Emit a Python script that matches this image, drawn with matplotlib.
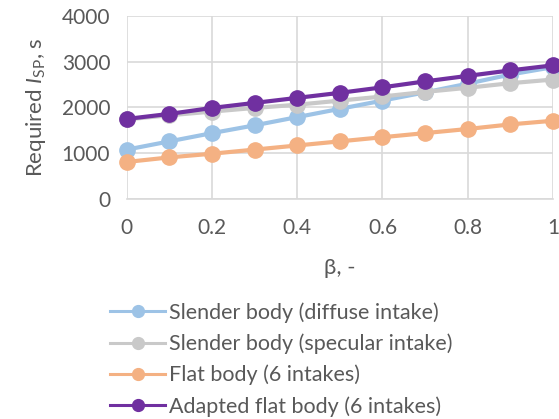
import matplotlib
matplotlib.use("Agg")
import matplotlib.pyplot as plt
from matplotlib.lines import Line2D

beta = [0, 0.1, 0.2, 0.3, 0.4, 0.5, 0.6, 0.7, 0.8, 0.9, 1.0]
slender_diffuse = [1080, 1260, 1440, 1610, 1790, 1970, 2150, 2330, 2520, 2720, 2880]
slender_specular = [1740, 1830, 1910, 1990, 2060, 2150, 2240, 2340, 2430, 2530, 2610]
flat_body = [810, 910, 990, 1080, 1170, 1260, 1350, 1440, 1530, 1630, 1710]
adapted_flat = [1750, 1860, 1990, 2100, 2210, 2320, 2440, 2570, 2690, 2810, 2920]

series_labels = ["Slender body (diffuse intake)", "Slender body (specular intake)",
                 "Flat body (6 intakes)", "Adapted flat body (6 intakes)"]
colors = ["#9DC3E6", "#C9C9C9", "#F4B183", "#7030A0"]
xticks = [0, 0.2, 0.4, 0.6, 0.8, 1]
xticklabels = ["0", "0.2", "0.4", "0.6", "0.8", "1"]
yticks = [0, 1000, 2000, 3000, 4000]

plt.rcParams['font.family'] = ['Lato', 'DejaVu Sans']
plt.rcParams['mathtext.fontset'] = 'custom'
plt.rcParams['mathtext.rm'] = 'Lato'
plt.rcParams['mathtext.it'] = 'Lato:italic'
txt = "#595959"

fig = plt.figure(figsize=(5.59, 4.19), dpi=100)
ax = fig.add_axes([0.227, 0.525, 0.762, 0.437])

data = [slender_diffuse, slender_specular, flat_body, adapted_flat]
for vals, c, lab in zip(data, colors, series_labels):
    ax.plot(beta, vals, color=c, lw=3, marker='o', ms=11, label=lab, zorder=3,
            clip_on=False)

ax.set_xlim(0, 1)
ax.set_ylim(0, 4000)
ax.set_xticks(xticks)
ax.set_xticklabels(xticklabels)
ax.set_yticks(yticks)
ax.grid(True, color="#D9D9D9", lw=1.2)
ax.set_axisbelow(True)
for s in ['top', 'right', 'left']:
    ax.spines[s].set_visible(False)
ax.spines['bottom'].set_color("#D9D9D9")
ax.spines['bottom'].set_linewidth(1.2)
ax.tick_params(length=0, labelsize=15, colors=txt)
ax.tick_params(axis='x', pad=14)
ax.tick_params(axis='y', pad=12)
ax.set_xlabel("β, -", fontsize=16, color=txt, labelpad=14)
ax.set_ylabel(r"Required $\mathit{I}_{\mathrm{SP}}$, s", fontsize=16, color=txt, labelpad=10)

handles = [Line2D([0], [0], color=c, lw=2.2, marker='o', ms=8.5) for c in colors]
leg = fig.legend(handles, series_labels, loc='upper left', bbox_to_anchor=(0.197, 0.279),
                 frameon=False, prop={'size': 15.5}, handlelength=2.55, labelspacing=0.5,
                 handletextpad=0.2, borderaxespad=0, borderpad=0)
for t in leg.get_texts():
    t.set_color(txt)

fig.savefig("out.png", dpi=100)
